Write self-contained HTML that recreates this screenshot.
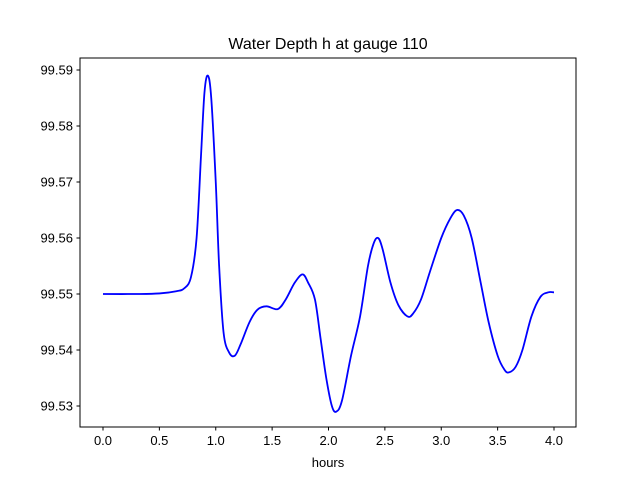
<!DOCTYPE html>
<html><head><meta charset="utf-8"><style>
body{margin:0;background:#fff}
svg{display:block;font-family:"Liberation Sans","DejaVu Sans",sans-serif}
</style></head><body>
<svg id="chart" width="640" height="480">
<rect width="640" height="480" fill="#fff"/>
<text x="328" y="49" text-anchor="middle" font-size="16">Water Depth h at gauge 110</text>
<g id="plot"></g>
<rect x="80" y="58" width="496" height="369" fill="none" stroke="#000" stroke-width="1"/>
<text x="328" y="467" text-anchor="middle" font-size="13">hours</text>
</svg>
<script>
const times=[0,0.3,0.5,0.65,0.72,0.78,0.83,0.87,0.9,0.93,0.96,1.0,1.03,1.07,1.12,1.17,1.22,1.3,1.37,1.45,1.55,1.62,1.7,1.77,1.82,1.88,1.93,1.98,2.03,2.07,2.12,2.2,2.28,2.35,2.4,2.44,2.48,2.55,2.62,2.7,2.75,2.82,2.9,3.0,3.08,3.14,3.2,3.27,3.35,3.42,3.5,3.56,3.6,3.66,3.72,3.8,3.88,3.95,4.0];
const depths=[99.55,99.55,99.5501,99.5505,99.551,99.553,99.56,99.575,99.586,99.589,99.585,99.57,99.555,99.543,99.5395,99.539,99.541,99.545,99.5472,99.5478,99.5473,99.549,99.552,99.5535,99.552,99.549,99.542,99.535,99.53,99.529,99.531,99.539,99.546,99.555,99.559,99.56,99.558,99.552,99.548,99.546,99.5465,99.549,99.554,99.56,99.5635,99.565,99.564,99.56,99.552,99.545,99.539,99.5365,99.536,99.537,99.54,99.546,99.5495,99.5503,99.5503];
const xTicks=[0,0.5,1,1.5,2,2.5,3,3.5,4];
const xTickLabels=["0.0","0.5","1.0","1.5","2.0","2.5","3.0","3.5","4.0"];
const yTicks=[99.53,99.54,99.55,99.56,99.57,99.58,99.59];
const yTickLabels=["99.53","99.54","99.55","99.56","99.57","99.58","99.59"];
const X=t=>103+t*112.75;
const Y=v=>406-(v-99.53)*5600;
const NS="http://www.w3.org/2000/svg";
const g=document.getElementById('plot');
function mk(tag,attrs){const e=document.createElementNS(NS,tag);for(const k in attrs)e.setAttribute(k,attrs[k]);g.appendChild(e);return e;}
xTicks.forEach((t,i)=>{
  const l=mk('line',{x1:X(t),x2:X(t),y1:427,y2:430.5,stroke:'#000'});
  
  
  const tx=mk('text',{x:X(t),y:445,'text-anchor':'middle','font-size':'13'});
  tx.textContent=xTickLabels[i];
  
  
});
yTicks.forEach((v,i)=>{
  const l=mk('line',{x1:76.5,x2:80,y1:Y(v),y2:Y(v),stroke:'#000'});
  
  
  const tx=mk('text',{x:73,y:Y(v)+4.5,'text-anchor':'end','font-size':'13'});
  tx.textContent=yTickLabels[i];
  
  
});
// Catmull-Rom smooth path
const P=times.map((t,i)=>[X(t),Y(depths[i])]);
let d=`M${P[0][0]},${P[0][1]}`;
for(let i=0;i<P.length-1;i++){
  const p0=P[Math.max(i-1,0)],p1=P[i],p2=P[i+1],p3=P[Math.min(i+2,P.length-1)];
  const c1=[p1[0]+(p2[0]-p0[0])/6,p1[1]+(p2[1]-p0[1])/6];
  const c2=[p2[0]-(p3[0]-p1[0])/6,p2[1]-(p3[1]-p1[1])/6];
  d+=` C${c1[0]},${c1[1]} ${c2[0]},${c2[1]} ${p2[0]},${p2[1]}`;
}
const line=mk('path',{d:d,fill:'none',stroke:'#0000ff','stroke-width':'1.8'});


</script>
</body></html>
